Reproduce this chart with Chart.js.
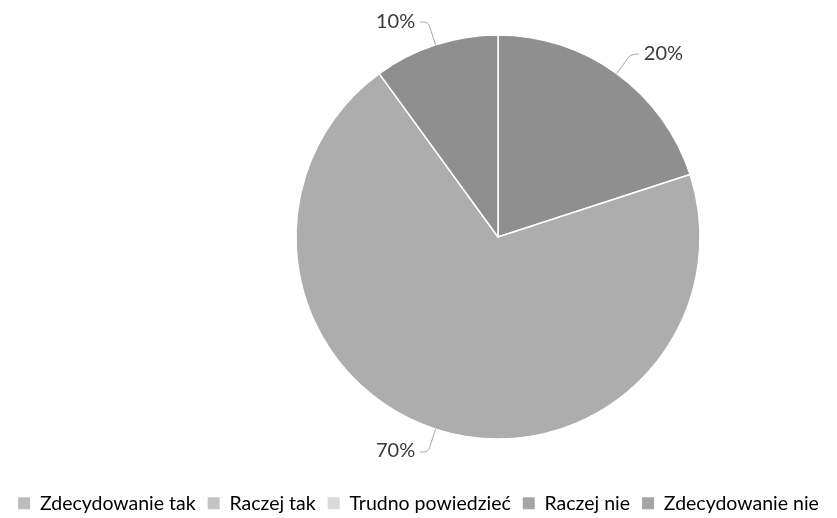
<!DOCTYPE html>
<html lang="pl">
<head>
<meta charset="UTF-8">
<title>Wykres kołowy</title>
<script src="https://cdn.jsdelivr.net/npm/chart.js@4.4.1/dist/chart.umd.min.js"></script>
<style>
  html, body { margin: 0; padding: 0; background: #fff; }
  #wrap { width: 837px; height: 518px; position: relative; }
</style>
</head>
<body>
<div id="wrap"><canvas id="wykres"></canvas></div>
<script>
// DANE
const kategorie = ['Zdecydowanie tak', 'Raczej tak', 'Trudno powiedzieć', 'Raczej nie', 'Zdecydowanie nie'];
const wartosci = [20, 70, 0, 0, 10];
const koloryWycinkow = ['#8f8f8f', '#adadad', '#d9d9d9', '#a5a5a5', '#8f8f8f'];
const koloryLegendy = ['#bdbdbd', '#c4c4c4', '#d9d9d9', '#a5a5a5', '#a5a5a5'];

const FONT = 'Lato, "Open Sans", sans-serif';
const SRODEK_X = 498;
const SRODEK_Y = 237;

// ----------------------------
// koło stoi na prawo od środka płótna
const przesun = {
    id: 'przesun',
    afterLayout(chart) {
        const a = chart.chartArea;
        const dx = SRODEK_X - (a.left + a.right) / 2;
        const dy = SRODEK_Y - (a.top + a.bottom) / 2;
        a.left += dx; a.right += dx;
        a.top += dy; a.bottom += dy;
    }
};

// ----------------------------
// procenty na zewnątrz z liniami odniesienia
const etykiety = {
    id: 'etykiety',
    afterDatasetsDraw(chart) {
        const ctx = chart.ctx;
        const meta = chart.getDatasetMeta(0);
        const suma = wartosci.reduce((a, b) => a + b, 0);
        meta.data.forEach((luk, i) => {
            if (!wartosci[i]) return;
            const p = luk.getProps(['x', 'y', 'outerRadius', 'startAngle', 'endAngle'], true);
            const kat = (p.startAngle + p.endAngle) / 2;
            const cos = Math.cos(kat), sin = Math.sin(kat);
            const r = p.outerRadius;
            const kier = cos >= 0 ? 1 : -1;
            const x0 = p.x + cos * r, y0 = p.y + sin * r;
            const xs = p.x + cos * (r + 19), ys = p.y + sin * (r + 19);
            const x1 = p.x + cos * (r + 24), y1 = p.y + sin * (r + 24);
            const x2 = x1 + kier * 8;

            ctx.save();
            ctx.strokeStyle = '#a6a6a6';
            ctx.lineWidth = 1;
            ctx.beginPath();
            ctx.moveTo(x0, y0);
            ctx.lineTo(xs, ys);
            ctx.quadraticCurveTo(x1, y1, x1 + kier * 4, y1);
            ctx.lineTo(x2, y1);
            ctx.stroke();

            ctx.fillStyle = '#3a3a3a';
            ctx.font = '20px ' + FONT;
            ctx.textBaseline = 'middle';
            ctx.textAlign = kier > 0 ? 'left' : 'right';
            ctx.fillText(Math.round(wartosci[i] / suma * 100) + '%', x2 + kier * 5, y1 - 1);
            ctx.restore();
        });
    }
};

const ctx = document.getElementById('wykres').getContext('2d');
const wykres = new Chart(ctx, {
    type: 'pie',
    data: {
        labels: kategorie,
        datasets: [{
            data: wartosci,
            backgroundColor: koloryWycinkow,
            borderColor: '#ffffff',
            borderWidth: 1.5,
            radius: 202,
            clip: false
        }]
    },
    options: {
        responsive: true,
        maintainAspectRatio: false,
        animation: false,
        layout: { padding: { top: 10, bottom: -5, left: 0, right: 0 } },
        plugins: {
            tooltip: { enabled: false },
            legend: {
                position: 'bottom',
                labels: {
                    boxWidth: 12,
                    boxHeight: 12,
                    padding: 12,
                    color: '#3a3a3a',
                    font: { family: FONT, size: 19.5 },
                    generateLabels: () => kategorie.map((k, i) => ({
                        text: k,
                        fillStyle: koloryLegendy[i],
                        strokeStyle: koloryLegendy[i],
                        lineWidth: 0,
                        hidden: false,
                        index: i
                    }))
                }
            }
        }
    },
    plugins: [przesun, etykiety]
});
</script>
</body>
</html>
